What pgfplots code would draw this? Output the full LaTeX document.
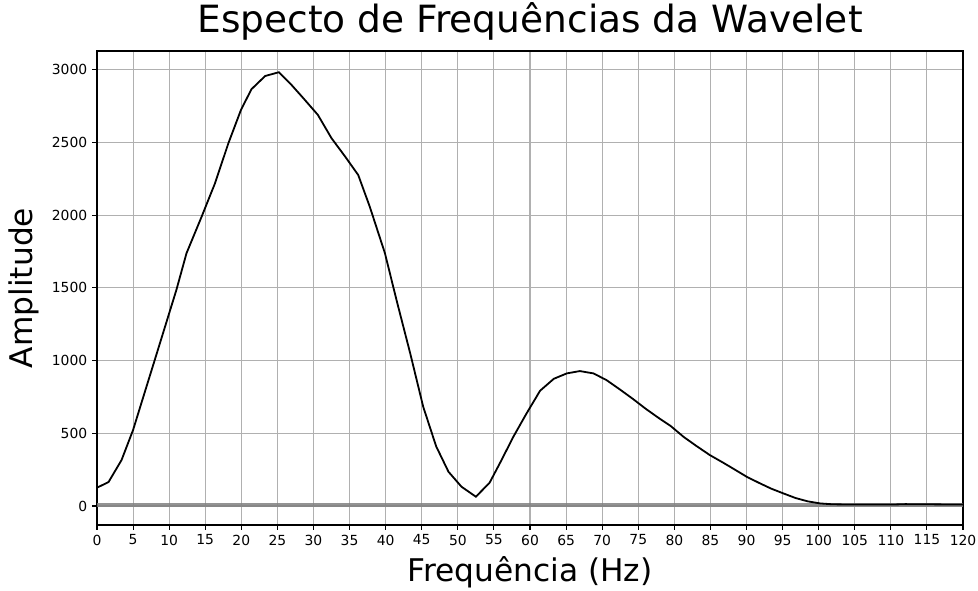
\documentclass[border=0pt]{standalone}
\usepackage{fontspec}
\setmainfont{DejaVu Sans}
\usepackage{pgfplots}
\pgfplotsset{compat=1.18}
\definecolor{gridc}{HTML}{B0B0B0}
\begin{document}
\begin{tikzpicture}
\begin{axis}[
  name=ax,
  scale only axis,
  width=623.5pt, height=341.3pt,
  xmin=0, xmax=120, ymin=-130.7, ymax=3129,
  xtick={0,5,...,120},
  ytick={0,500,...,3000},
  /pgf/number format/1000 sep={},
  /pgf/number format/assume math mode=true,
  tick label style={font=\fontsize{10}{12}\selectfont},
  tick align=outside,
  major tick length=3.5pt,
  tick style={black, line width=0.8pt},
  axis line style={line width=0.8pt},
  xtick pos=bottom, ytick pos=left,
  grid=major,
  major grid style={gridc, line width=0.8pt},
  title={Especto de Frequências da Wavelet},
  title style={font=\fontsize{27}{32}\selectfont, at={(axis description cs:0.5,1.021)}, anchor=base},
  xlabel={Frequência (Hz)},
  xlabel style={font=\fontsize{22.5}{27}\selectfont, at={(axis description cs:0.5,-0.12)}, anchor=base},
  ylabel={Amplitude},
  ylabel style={font=\fontsize{22.5}{27}\selectfont, at={(axis description cs:-0.074,0.5)}, anchor=base, rotate=0},
]
\addplot[gray, line width=2.2pt, opacity=0.85] coordinates {(0,7) (120,7)};
\addplot[black, line width=1.3pt] coordinates {
(0,126) (1.6,165) (3.4,316) (5.0,523) (6.6,780) (8.0,1004) (9.6,1261) (11.0,1486)
(12.4,1738) (14.5,1990) (16.35,2219) (18.2,2494) (19.95,2724) (21.4,2866) (23.3,2957)
(25.2,2983) (27.0,2893) (28.6,2804) (30.6,2690) (32.5,2529) (34.4,2402) (36.2,2276)
(37.8,2058) (39.9,1738) (41.5,1417) (43.4,1050) (45.2,683) (47.0,410) (48.7,236)
(50.5,133) (52.5,64) (54.4,160) (56.0,311) (57.7,477) (59.5,635) (61.4,793)
(63.3,875) (65.1,912) (66.9,928) (68.8,912) (70.6,866) (72.5,800) (74.3,735)
(76.0,670) (77.7,610) (79.5,550) (81.3,475) (83.0,415) (84.9,351) (86.7,300)
(88.4,250) (90.0,202) (91.7,160) (93.4,120) (95.1,87) (96.8,55) (98.5,32)
(100.2,18) (101.9,12) (105,10) (110,10) (112,13) (115,12) (120,10)
};
\end{axis}
\pgfresetboundingbox
\path[use as bounding box] ([xshift=-69.84pt,yshift=-46.8pt]ax.south west) rectangle ([xshift=10.8pt,yshift=36.72pt]ax.north east);
\end{tikzpicture}
\end{document}
